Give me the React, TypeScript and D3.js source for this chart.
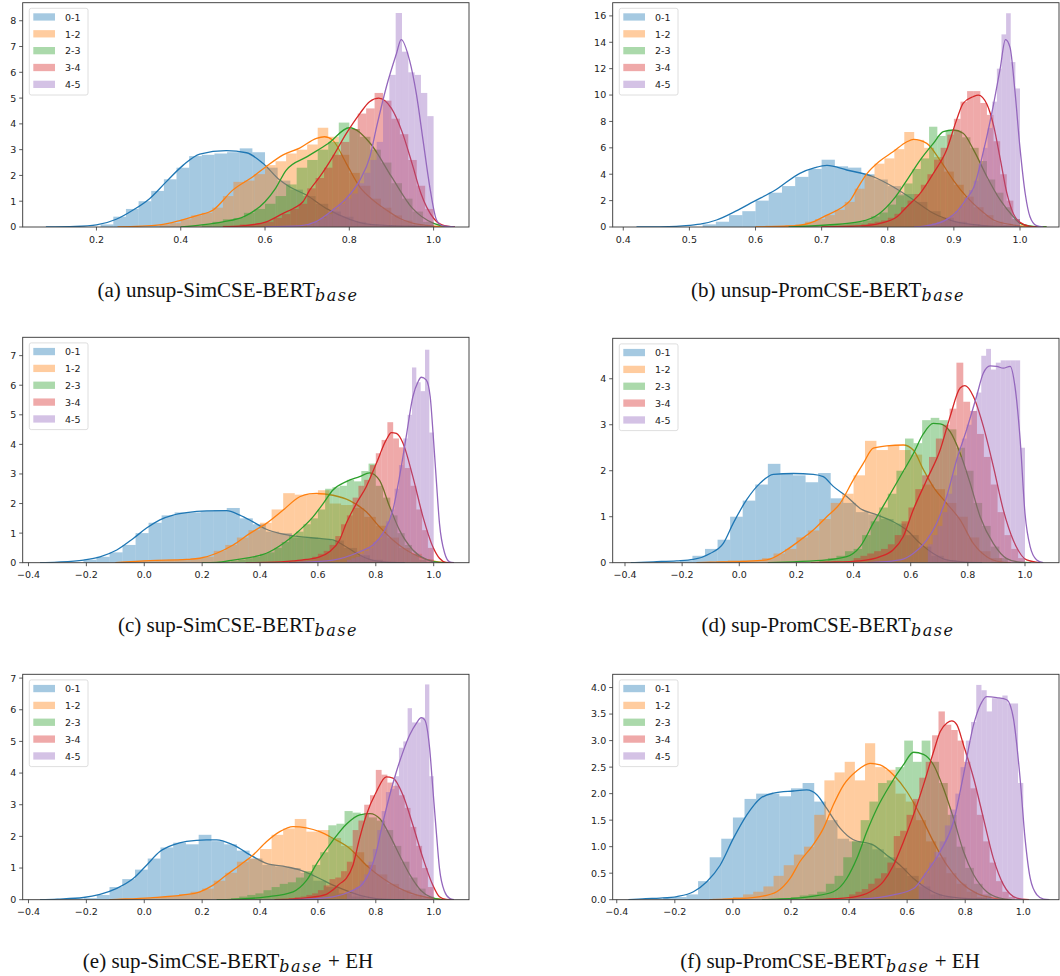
import React from 'react';
import * as d3 from 'd3';

type Pair = [number, number];

const COLORS = ['#1f77b4', '#ff7f0e', '#2ca02c', '#d62728', '#9467bd'];
const LABELS = ['0-1', '1-2', '2-3', '3-4', '4-5'];

// ---- (a) unsup-SimCSE ----
const startsA = [0.21, 0.35, 0.45, 0.5, 0.7];
const widthsA = [0.03, 0.025, 0.025, 0.02, 0.015];
const histA = [
  [0.1, 0.4, 0.7, 1.0, 1.4, 1.85, 2.3, 2.75, 2.8, 2.85, 2.9, 3.05, 2.9, 2.3, 1.8, 1.45, 1.2, 0.9, 0.6, 0.4, 0.2, 0.1, 0.05, 0.03, 0.02, 0.01],
  [0.1, 0.15, 0.3, 0.45, 0.55, 0.75, 1.2, 1.75, 1.8, 2.05, 2.4, 2.55, 2.85, 3.0, 3.2, 3.85, 3.5, 2.8, 2.1, 1.6, 1.1, 0.75, 0.45, 0.25, 0.1, 0.05],
  [0.1, 0.2, 0.3, 0.35, 0.55, 0.7, 0.9, 1.2, 1.65, 2.3, 2.6, 3.0, 3.3, 4.05, 3.8, 3.5, 3.0, 2.5, 1.7, 1.1, 0.6, 0.2],
  [0.05, 0.05, 0.1, 0.1, 0.15, 0.2, 0.35, 0.5, 0.7, 0.9, 1.5, 1.9, 2.3, 2.8, 3.3, 3.8, 4.4, 4.6, 5.2, 4.9, 4.2, 3.6, 2.6, 1.6, 0.7],
  [0.1, 0.2, 0.35, 0.5, 0.7, 0.9, 1.1, 1.3, 1.7, 2.1, 2.6, 3.3, 4.9, 5.9, 8.3, 6.8, 6.0, 5.9, 5.2, 4.3],
];
const kdeA: Pair[][] = [
  [[0.08, 0], [0.15, 0.02], [0.2, 0.08], [0.247, 0.3], [0.287, 0.66], [0.326, 1.1], [0.366, 1.76], [0.406, 2.4], [0.445, 2.83], [0.508, 2.96], [0.556, 2.88], [0.595, 2.47], [0.635, 1.82], [0.658, 1.56], [0.698, 1.24], [0.745, 0.72], [0.801, 0.3], [0.84, 0.12], [0.9, 0.05], [0.95, 0.03], [1.0, 0.01], [1.05, 0]],
  [[0.25, 0], [0.35, 0.08], [0.402, 0.27], [0.44, 0.45], [0.477, 0.66], [0.524, 1.44], [0.572, 1.96], [0.603, 2.35], [0.643, 2.8], [0.682, 3.06], [0.722, 3.44], [0.741, 3.5], [0.761, 3.36], [0.793, 2.46], [0.825, 1.55], [0.856, 1.05], [0.888, 0.66], [0.919, 0.34], [0.95, 0.15], [0.983, 0.06], [1.02, 0.01], [1.05, 0]],
  [[0.4, 0], [0.45, 0.08], [0.5, 0.2], [0.55, 0.4], [0.6, 0.98], [0.625, 1.5], [0.65, 2.2], [0.7, 2.73], [0.75, 3.24], [0.8, 3.85], [0.85, 3.24], [0.9, 1.95], [0.95, 0.72], [1.0, 0.14], [1.04, 0]],
  [[0.5, 0], [0.55, 0.05], [0.603, 0.2], [0.643, 0.53], [0.667, 0.72], [0.69, 0.98], [0.706, 1.43], [0.73, 1.95], [0.761, 2.73], [0.793, 3.63], [0.825, 4.4], [0.848, 4.86], [0.87, 5.0], [0.9, 4.6], [0.925, 3.7], [0.95, 2.4], [0.97, 1.3], [1.0, 0.34], [1.02, 0.08], [1.05, 0]],
  [[0.6, 0], [0.682, 0.04], [0.72, 0.2], [0.761, 0.66], [0.793, 1.11], [0.825, 1.82], [0.849, 2.73], [0.865, 3.9], [0.888, 5.44], [0.912, 6.73], [0.923, 7.27], [0.943, 6.46], [0.959, 5.17], [0.975, 3.36], [0.991, 1.55], [1.007, 0.27], [1.022, 0.04], [1.05, 0]],
];

// ---- (b) unsup-PromCSE ----
const startsB = [0.52, 0.6, 0.7, 0.76, 0.86];
const widthsB = [0.02, 0.015, 0.0125, 0.01, 0.007];
const histB = [
  [0.2, 0.4, 0.9, 1.2, 2.0, 2.6, 3.1, 3.8, 4.4, 5.1, 4.6, 4.5, 4.0, 3.6, 3.1, 2.5, 1.9, 1.2, 0.7, 0.4, 0.2, 0.1, 0.05, 0.02],
  [0.05, 0.1, 0.1, 0.15, 0.2, 0.4, 0.6, 0.9, 1.3, 1.9, 2.9, 3.9, 4.8, 5.2, 5.9, 7.2, 6.6, 6.0, 5.3, 4.2, 3.2, 2.3, 1.5, 0.9, 0.4, 0.15],
  [0.1, 0.15, 0.2, 0.3, 0.35, 0.5, 0.8, 1.1, 1.7, 2.4, 3.3, 4.4, 5.2, 7.6, 6.9, 7.3, 7.3, 6.8, 6.0, 5.0, 3.6, 2.6, 1.5, 0.6],
  [0.2, 0.3, 0.4, 0.5, 0.7, 1.0, 1.5, 2.0, 2.5, 3.2, 4.0, 5.1, 6.0, 7.0, 8.2, 9.5, 10.3, 10.3, 9.4, 8.5, 6.5, 4.0, 2.0, 0.6],
  [0.2, 0.3, 0.4, 0.5, 0.7, 0.9, 1.2, 1.6, 2.2, 2.8, 3.5, 4.8, 6.0, 7.5, 9.5, 12.0, 14.6, 16.2, 12.5, 10.5],
];
const kdeB: Pair[][] = [
  [[0.42, 0], [0.48, 0.05], [0.5, 0.12], [0.52, 0.25], [0.541, 0.53], [0.57, 1.2], [0.597, 1.92], [0.63, 2.8], [0.667, 4.07], [0.69, 4.5], [0.708, 4.67], [0.738, 4.32], [0.778, 3.81], [0.808, 3.05], [0.839, 2.05], [0.869, 1.04], [0.899, 0.45], [0.94, 0.13], [0.98, 0.04], [1.04, 0]],
  [[0.6, 0], [0.657, 0.08], [0.69, 0.45], [0.708, 0.9], [0.728, 1.4], [0.743, 2.0], [0.755, 3.0], [0.768, 4.0], [0.788, 5.0], [0.808, 5.7], [0.829, 6.46], [0.839, 6.64], [0.859, 6.34], [0.879, 5.07], [0.899, 3.56], [0.919, 2.3], [0.94, 1.29], [0.96, 0.53], [0.99, 0.15], [1.02, 0.02], [1.04, 0]],
  [[0.65, 0], [0.708, 0.15], [0.758, 0.4], [0.788, 1.04], [0.808, 2.05], [0.829, 3.56], [0.849, 5.07], [0.869, 6.34], [0.884, 7.22], [0.899, 7.35], [0.914, 7.1], [0.93, 5.83], [0.95, 3.81], [0.97, 2.05], [0.99, 0.78], [1.0, 0.28], [1.02, 0.05], [1.04, 0]],
  [[0.7, 0], [0.758, 0.08], [0.788, 0.28], [0.814, 0.78], [0.829, 1.54], [0.849, 2.55], [0.869, 4.07], [0.889, 5.83], [0.904, 8.1], [0.914, 9.37], [0.929, 9.87], [0.937, 10.0], [0.95, 9.3], [0.96, 7.7], [0.97, 5.2], [0.98, 2.6], [0.99, 1.0], [1.0, 0.35], [1.015, 0.05], [1.03, 0]],
  [[0.84, 0], [0.87, 0.2], [0.89, 0.6], [0.905, 1.2], [0.92, 2.2], [0.93, 3.0], [0.945, 5.8], [0.96, 9.3], [0.97, 12.0], [0.978, 14.2], [0.985, 13.6], [0.992, 10.5], [1.0, 6.0], [1.008, 2.5], [1.015, 0.8], [1.025, 0.1], [1.035, 0]],
];

// ---- (c) sup-SimCSE ----
const startsC = [-0.21, -0.08, 0.3, 0.5, 0.7];
const widthsC = [0.045, 0.04, 0.025, 0.02, 0.015];
const histC = [
  [0.1, 0.2, 0.35, 0.6, 1.0, 1.35, 1.6, 1.7, 1.7, 1.75, 1.78, 1.85, 1.5, 1.3, 1.05, 1.0, 0.85, 0.85, 0.8, 0.75, 0.5, 0.25, 0.1, 0.03],
  [0.03, 0.05, 0.05, 0.08, 0.1, 0.12, 0.15, 0.2, 0.4, 0.6, 0.85, 1.1, 1.35, 1.8, 2.35, 2.3, 2.3, 2.45, 2.0, 1.95, 1.85, 1.55, 1.25, 0.85, 0.5, 0.3, 0.12],
  [0.05, 0.1, 0.15, 0.2, 0.3, 0.35, 0.5, 0.7, 0.9, 1.05, 1.3, 1.5, 1.8, 2.5, 2.55, 2.6, 2.8, 2.75, 3.1, 3.35, 2.6, 2.2, 1.6, 1.0, 0.6, 0.3, 0.1, 0.03],
  [0.05, 0.08, 0.1, 0.12, 0.2, 0.3, 0.4, 0.6, 0.9, 1.3, 1.6, 2.2, 2.6, 2.8, 3.3, 3.7, 4.15, 4.75, 4.2, 3.9, 3.2, 2.6, 1.8, 1.1, 0.5],
  [0.1, 0.15, 0.2, 0.3, 0.4, 0.5, 0.7, 0.8, 1.0, 1.4, 1.8, 2.5, 3.3, 4.2, 5.0, 6.6, 6.1, 5.8, 7.2, 4.4],
];
const kdeC: Pair[][] = [
  [[-0.36, 0], [-0.3, 0.02], [-0.21, 0.09], [-0.153, 0.2], [-0.095, 0.43], [-0.038, 0.82], [0.008, 1.17], [0.054, 1.45], [0.1, 1.61], [0.146, 1.69], [0.215, 1.75], [0.284, 1.76], [0.33, 1.61], [0.376, 1.38], [0.422, 1.13], [0.468, 0.99], [0.537, 0.88], [0.606, 0.82], [0.652, 0.77], [0.687, 0.6], [0.733, 0.32], [0.779, 0.11], [0.836, 0.02], [0.9, 0]],
  [[-0.1, 0], [0.02, 0.07], [0.146, 0.11], [0.192, 0.15], [0.25, 0.32], [0.307, 0.6], [0.365, 0.99], [0.422, 1.33], [0.48, 1.78], [0.537, 2.23], [0.57, 2.33], [0.595, 2.34], [0.652, 2.28], [0.71, 2.1], [0.767, 1.72], [0.813, 1.21], [0.859, 0.77], [0.905, 0.43], [0.951, 0.2], [0.997, 0.06], [1.04, 0]],
  [[0.2, 0], [0.25, 0.01], [0.307, 0.09], [0.422, 0.32], [0.48, 0.65], [0.537, 1.1], [0.583, 1.55], [0.618, 2.0], [0.652, 2.46], [0.698, 2.74], [0.744, 2.91], [0.779, 3.04], [0.813, 2.78], [0.848, 1.89], [0.882, 1.1], [0.928, 0.43], [0.974, 0.11], [1.02, 0.01], [1.05, 0]],
  [[0.35, 0], [0.422, 0.01], [0.514, 0.06], [0.56, 0.11], [0.606, 0.2], [0.64, 0.37], [0.675, 0.77], [0.698, 1.33], [0.733, 2.0], [0.767, 2.57], [0.802, 3.36], [0.836, 4.15], [0.854, 4.4], [0.871, 4.37], [0.894, 4.04], [0.928, 2.91], [0.963, 1.55], [0.997, 0.54], [1.02, 0.15], [1.043, 0.01], [1.07, 0]],
  [[0.5, 0], [0.537, 0.01], [0.652, 0.09], [0.744, 0.37], [0.79, 0.6], [0.825, 1.0], [0.859, 1.78], [0.882, 2.91], [0.905, 4.26], [0.928, 5.61], [0.946, 6.12], [0.957, 6.27], [0.974, 6.18], [0.988, 5.61], [0.997, 4.49], [1.009, 2.8], [1.02, 1.33], [1.038, 0.32], [1.055, 0.03], [1.07, 0]],
];

// ---- (d) sup-PromCSE ----
const startsD = [-0.208, -0.08, 0.28, 0.4, 0.66];
const widthsD = [0.044, 0.04, 0.03, 0.024, 0.017];
const histD = [
  [0.05, 0.15, 0.3, 0.5, 1.0, 1.35, 1.7, 2.15, 1.95, 1.9, 1.75, 1.95, 1.4, 1.3, 1.1, 1.05, 0.95, 0.85, 0.6, 0.35, 0.15, 0.05],
  [0.03, 0.05, 0.05, 0.05, 0.1, 0.2, 0.3, 0.55, 0.7, 0.95, 1.3, 1.5, 1.9, 2.65, 2.45, 2.55, 2.45, 2.35, 1.7, 1.6, 1.3, 1.0, 0.55, 0.25, 0.1],
  [0.05, 0.1, 0.15, 0.25, 0.3, 0.6, 0.9, 1.2, 1.5, 2.0, 2.7, 2.6, 3.1, 3.15, 3.1, 2.9, 2.5, 2.0, 1.3, 0.8, 0.35, 0.1],
  [0.1, 0.15, 0.2, 0.25, 0.3, 0.4, 0.6, 0.9, 1.2, 1.6, 1.9, 2.3, 2.7, 3.0, 3.35, 4.35, 3.5, 3.3, 2.8, 2.3, 1.7, 1.1, 0.6, 0.3, 0.1],
  [0.4, 0.6, 0.8, 1.1, 1.5, 1.9, 2.3, 2.7, 3.0, 3.3, 3.7, 4.5, 4.65, 4.2, 4.35, 4.4, 4.4, 4.4, 4.4, 2.5],
];
const kdeD: Pair[][] = [
  [[-0.38, 0], [-0.3, 0.02], [-0.219, 0.04], [-0.161, 0.07], [-0.102, 0.2], [-0.056, 0.42], [-0.021, 0.86], [0.026, 1.37], [0.073, 1.73], [0.119, 1.92], [0.189, 1.94], [0.259, 1.92], [0.294, 1.87], [0.329, 1.66], [0.376, 1.44], [0.423, 1.18], [0.481, 1.04], [0.539, 0.89], [0.586, 0.71], [0.633, 0.42], [0.679, 0.2], [0.726, 0.06], [0.796, 0.01], [0.85, 0]],
  [[-0.15, 0], [-0.102, 0.01], [0.014, 0.03], [0.096, 0.06], [0.166, 0.28], [0.213, 0.49], [0.259, 0.71], [0.306, 1.0], [0.353, 1.29], [0.399, 1.8], [0.434, 2.16], [0.469, 2.49], [0.516, 2.54], [0.574, 2.56], [0.609, 2.45], [0.644, 2.03], [0.679, 1.65], [0.726, 1.29], [0.773, 0.93], [0.819, 0.42], [0.866, 0.13], [0.913, 0.02], [0.95, 0]],
  [[0.1, 0], [0.189, 0.02], [0.306, 0.06], [0.376, 0.13], [0.423, 0.35], [0.469, 0.86], [0.516, 1.36], [0.563, 1.87], [0.609, 2.37], [0.644, 2.8], [0.679, 3.03], [0.703, 3.02], [0.738, 2.85], [0.773, 2.38], [0.808, 1.73], [0.843, 1.0], [0.889, 0.42], [0.936, 0.09], [0.983, 0.01], [1.02, 0]],
  [[0.25, 0], [0.306, 0.01], [0.423, 0.04], [0.493, 0.13], [0.539, 0.28], [0.574, 0.57], [0.609, 1.15], [0.656, 1.8], [0.703, 2.45], [0.738, 3.18], [0.773, 3.8], [0.79, 3.85], [0.819, 3.62], [0.854, 2.97], [0.889, 2.1], [0.924, 1.15], [0.959, 0.49], [1.006, 0.06], [1.053, 0]],
  [[0.45, 0], [0.481, 0.01], [0.563, 0.06], [0.609, 0.2], [0.656, 0.49], [0.691, 0.86], [0.726, 1.44], [0.761, 2.24], [0.796, 2.9], [0.831, 3.63], [0.854, 4.12], [0.878, 4.28], [0.901, 4.27], [0.924, 4.23], [0.948, 4.27], [0.965, 3.83], [0.983, 2.68], [1.0, 1.07], [1.018, 0.35], [1.041, 0.06], [1.064, 0]],
];

// ---- (e) sup-SimCSE + EH ----
const startsE = [-0.208, -0.08, 0.3, 0.5, 0.7];
const widthsE = [0.044, 0.04, 0.028, 0.02, 0.015];
const histE = [
  [0.05, 0.15, 0.4, 0.65, 0.95, 1.3, 1.65, 1.8, 1.75, 2.05, 1.85, 1.75, 1.55, 1.3, 1.1, 1.05, 1.0, 0.85, 0.6, 0.4, 0.2, 0.1, 0.03],
  [0.02, 0.04, 0.05, 0.08, 0.12, 0.18, 0.25, 0.35, 0.6, 0.85, 1.2, 1.3, 1.6, 2.05, 2.25, 2.55, 2.15, 2.2, 1.95, 1.7, 1.5, 1.1, 0.8, 0.5, 0.3, 0.15, 0.05],
  [0.05, 0.1, 0.15, 0.2, 0.3, 0.4, 0.5, 0.55, 0.7, 0.9, 1.1, 1.5, 2.35, 2.4, 2.8, 2.75, 2.7, 2.6, 2.5, 2.2, 1.7, 1.2, 0.7, 0.35, 0.1],
  [0.05, 0.08, 0.1, 0.15, 0.2, 0.3, 0.45, 0.65, 0.7, 0.9, 1.2, 2.2, 2.5, 3.0, 3.3, 4.1, 3.95, 3.7, 3.6, 3.3, 2.9, 2.3, 1.7, 1.0, 0.4],
  [0.2, 0.3, 0.4, 0.6, 0.8, 1.2, 1.6, 2.2, 2.8, 3.4, 3.5, 3.9, 4.8, 5.0, 6.05, 5.6, 5.6, 5.75, 6.8, 3.9],
];
const kdeE: Pair[][] = [
  [[-0.36, 0], [-0.3, 0.02], [-0.21, 0.07], [-0.153, 0.17], [-0.095, 0.36], [-0.038, 0.67], [0.008, 1.09], [0.054, 1.52], [0.1, 1.73], [0.146, 1.84], [0.215, 1.89], [0.25, 1.89], [0.307, 1.73], [0.376, 1.36], [0.422, 1.15], [0.491, 1.04], [0.537, 0.94], [0.606, 0.67], [0.652, 0.46], [0.71, 0.25], [0.767, 0.09], [0.836, 0.01], [0.9, 0]],
  [[-0.12, 0], [-0.095, 0.01], [0.02, 0.06], [0.135, 0.15], [0.192, 0.25], [0.238, 0.46], [0.284, 0.78], [0.33, 1.09], [0.376, 1.41], [0.422, 1.83], [0.468, 2.15], [0.514, 2.31], [0.56, 2.27], [0.606, 2.15], [0.652, 1.94], [0.71, 1.62], [0.767, 1.09], [0.825, 0.67], [0.882, 0.36], [0.94, 0.15], [0.997, 0.04], [1.04, 0]],
  [[0.25, 0], [0.307, 0.01], [0.422, 0.09], [0.514, 0.25], [0.56, 0.6], [0.6, 1.2], [0.65, 1.85], [0.7, 2.4], [0.745, 2.68], [0.78, 2.72], [0.815, 2.55], [0.85, 2.0], [0.885, 1.35], [0.92, 0.75], [0.955, 0.3], [0.99, 0.08], [1.03, 0]],
  [[0.45, 0], [0.48, 0.01], [0.56, 0.06], [0.629, 0.17], [0.652, 0.31], [0.675, 0.5], [0.698, 0.67], [0.721, 1.09], [0.744, 1.94], [0.767, 2.67], [0.802, 3.41], [0.836, 3.88], [0.859, 3.84], [0.894, 3.3], [0.928, 2.36], [0.963, 1.31], [0.997, 0.46], [1.02, 0.09], [1.043, 0.01], [1.07, 0]],
  [[0.5, 0], [0.537, 0.01], [0.652, 0.09], [0.71, 0.25], [0.756, 0.52], [0.779, 0.88], [0.802, 1.52], [0.825, 2.46], [0.848, 3.3], [0.871, 4.04], [0.894, 4.67], [0.917, 5.2], [0.94, 5.57], [0.957, 5.75], [0.969, 5.68], [0.986, 4.78], [0.997, 3.52], [1.009, 2.15], [1.02, 0.99], [1.038, 0.25], [1.055, 0.04], [1.07, 0]],
];

// ---- (f) sup-PromCSE + EH ----
const startsF = [-0.24, -0.07, 0.2, 0.4, 0.64];
const widthsF = [0.04, 0.035, 0.03, 0.022, 0.018];
const histF = [
  [0.04, 0.05, 0.1, 0.35, 0.8, 1.15, 1.55, 1.9, 2.0, 2.0, 1.95, 2.1, 2.2, 1.85, 1.5, 1.15, 1.1, 1.05, 0.95, 0.8, 0.6, 0.45, 0.25, 0.1, 0.05],
  [0.02, 0.03, 0.05, 0.1, 0.15, 0.25, 0.45, 0.65, 0.85, 1.0, 1.6, 2.25, 2.4, 2.6, 2.25, 2.95, 2.5, 2.45, 2.0, 1.85, 1.5, 1.1, 0.8, 0.5, 0.3, 0.15, 0.05],
  [0.05, 0.08, 0.1, 0.15, 0.3, 0.45, 0.8, 1.1, 1.5, 1.85, 2.2, 2.25, 2.5, 3.0, 2.6, 3.0, 2.6, 2.2, 1.6, 1.0, 0.6, 0.3, 0.1],
  [0.1, 0.15, 0.2, 0.3, 0.4, 0.5, 0.7, 1.2, 1.3, 1.6, 1.9, 2.3, 2.6, 3.1, 3.55, 3.3, 3.2, 3.0, 2.6, 2.1, 1.6, 1.1, 0.7, 0.35, 0.15, 0.05],
  [0.3, 0.5, 0.7, 0.9, 1.1, 1.4, 1.7, 2.0, 2.5, 3.0, 3.35, 4.05, 3.95, 3.55, 3.8, 3.8, 3.85, 3.7, 3.7, 2.2],
];
const kdeF: Pair[][] = [
  [[-0.36, 0], [-0.3, 0.02], [-0.251, 0.03], [-0.193, 0.06], [-0.136, 0.15], [-0.09, 0.34], [-0.044, 0.65], [0.002, 1.16], [0.048, 1.6], [0.094, 1.91], [0.14, 2.01], [0.208, 2.05], [0.254, 2.07], [0.289, 1.98], [0.323, 1.72], [0.369, 1.35], [0.415, 1.13], [0.484, 1.03], [0.53, 0.84], [0.576, 0.65], [0.622, 0.4], [0.668, 0.21], [0.714, 0.09], [0.783, 0.03], [0.874, 0.01], [0.95, 0]],
  [[-0.08, 0], [-0.021, 0.01], [0.094, 0.06], [0.151, 0.15], [0.197, 0.4], [0.231, 0.72], [0.277, 1.04], [0.312, 1.35], [0.346, 1.79], [0.381, 2.16], [0.427, 2.43], [0.473, 2.57], [0.507, 2.54], [0.553, 2.35], [0.599, 2.04], [0.645, 1.6], [0.691, 1.09], [0.737, 0.65], [0.783, 0.34], [0.84, 0.12], [0.897, 0.03], [0.95, 0]],
  [[0.1, 0], [0.151, 0.01], [0.266, 0.06], [0.346, 0.15], [0.392, 0.4], [0.427, 0.78], [0.461, 1.28], [0.496, 1.72], [0.541, 2.16], [0.587, 2.54], [0.622, 2.78], [0.656, 2.74], [0.691, 2.54], [0.725, 2.1], [0.76, 1.53], [0.794, 0.91], [0.829, 0.47], [0.874, 0.15], [0.92, 0.03], [0.96, 0]],
  [[0.25, 0], [0.323, 0.01], [0.415, 0.05], [0.473, 0.15], [0.518, 0.34], [0.553, 0.65], [0.587, 1.09], [0.622, 1.6], [0.656, 2.16], [0.691, 2.79], [0.714, 3.17], [0.737, 3.33], [0.754, 3.37], [0.771, 3.3], [0.794, 2.92], [0.829, 2.29], [0.863, 1.53], [0.897, 0.78], [0.932, 0.28], [0.978, 0.03], [1.02, 0]],
  [[0.4, 0], [0.438, 0.01], [0.553, 0.09], [0.622, 0.21], [0.668, 0.53], [0.714, 0.91], [0.76, 1.48], [0.794, 2.35], [0.829, 3.3], [0.852, 3.67], [0.874, 3.83], [0.909, 3.81], [0.943, 3.77], [0.966, 3.42], [0.989, 2.29], [1.006, 1.16], [1.024, 0.4], [1.047, 0.09], [1.07, 0.01], [1.09, 0]],
];

// tick values
const xTicksA = [0.2, 0.4, 0.6, 0.8, 1.0];
const xTicksB = [0.4, 0.5, 0.6, 0.7, 0.8, 0.9, 1.0];
const xTicksWide = [-0.4, -0.2, 0.0, 0.2, 0.4, 0.6, 0.8, 1.0];
const yTicksA = [0, 1, 2, 3, 4, 5, 6, 7, 8];
const yTicksB = [0, 2, 4, 6, 8, 10, 12, 14, 16];
const yTicksC = [0, 1, 2, 3, 4, 5, 6, 7];
const yTicksD = [0, 1, 2, 3, 4];
const yTicksF = [0, 0.5, 1.0, 1.5, 2.0, 2.5, 3.0, 3.5, 4.0];

const fmt1 = (v: number) => (v < 0 ? '\u2212' : '') + Math.abs(v).toFixed(1);
const fmt0 = (v: number) => String(v);

interface PanelProps {
  id: string;
  left: number; right: number; top: number; bottom: number;
  xDomain: [number, number]; yDomain: [number, number];
  xTicks: number[]; yTicks: number[]; yFmt: (v: number) => string;
  starts: number[]; widths: number[]; hist: number[][]; kde: Pair[][];
  caption: string; suffix: string; capX: number; capY: number;
}

const TICK_FONT = '"DejaVu Sans", sans-serif';

const Panel: React.FC<PanelProps> = (p) => {
  const x = d3.scaleLinear().domain(p.xDomain).range([p.left, p.right]);
  const y = d3.scaleLinear().domain(p.yDomain).range([p.bottom, p.top]);
  const line = d3
    .line<Pair>()
    .x((d) => x(d[0]))
    .y((d) => y(d[1]))
    .curve(d3.curveMonotoneX);

  const lx = p.left + 6.6;
  const ly = p.top + 5.6;

  return (
    <g>
      <defs>
        <clipPath id={`clip-${p.id}`}>
          <rect x={p.left} y={p.top} width={p.right - p.left} height={p.bottom - p.top} />
        </clipPath>
      </defs>
      <g clipPath={`url(#clip-${p.id})`}>
        {p.hist.map((hs, s) => (
          <g key={s}>
            {hs.map((h, i) => {
              const x0 = x(p.starts[s] + i * p.widths[s]);
              const x1 = x(p.starts[s] + (i + 1) * p.widths[s]);
              return (
                <rect key={i} x={x0} y={y(h)} width={x1 - x0} height={y(0) - y(h)}
                  fill={COLORS[s]} fillOpacity={0.4} />
              );
            })}
            <path d={line(p.kde[s]) || ''} fill="none" stroke={COLORS[s]} strokeWidth={1.3} />
          </g>
        ))}
      </g>
      <rect x={p.left} y={p.top} width={p.right - p.left} height={p.bottom - p.top}
        fill="none" stroke="#333" strokeWidth={0.9} />
      {p.xTicks.map((t) => (
        <g key={t}>
          <line x1={x(t)} x2={x(t)} y1={p.bottom} y2={p.bottom + 3.5} stroke="#333" strokeWidth={0.8} />
          <text x={x(t)} y={p.bottom + 15.5} textAnchor="middle" fontFamily={TICK_FONT}
            fontSize={9.5} fill="#222">{fmt1(t)}</text>
        </g>
      ))}
      {p.yTicks.map((t) => (
        <g key={t}>
          <line x1={p.left - 3.5} x2={p.left} y1={y(t)} y2={y(t)} stroke="#333" strokeWidth={0.8} />
          <text x={p.left - 6.5} y={y(t)} dy="0.36em" textAnchor="end" fontFamily={TICK_FONT}
            fontSize={9.5} fill="#222">{p.yFmt(t)}</text>
        </g>
      ))}
      <rect x={lx} y={ly} width={58.7} height={86.7} rx={2} fill="#fff" fillOpacity={0.8}
        stroke="#d5d5d5" strokeWidth={0.8} />
      {LABELS.map((lab, i) => (
        <g key={lab}>
          <rect x={lx + 4} y={ly + 5 + i * 16.85} width={21.7} height={7.3} fill={COLORS[i]} fillOpacity={0.4} />
          <text x={lx + 35.7} y={ly + 12.4 + i * 16.85} fontFamily={TICK_FONT} fontSize={9.5} fill="#222">{lab}</text>
        </g>
      ))}
      <text x={p.capX} y={p.capY} textAnchor="middle" fontFamily='"Liberation Serif", "Times New Roman", serif'
        fontSize={21} fill="#111">
        {p.caption}
        <tspan dy={4} fontFamily='"DejaVu Serif", serif' fontStyle="italic" fontSize={16} letterSpacing={1.5}>base</tspan>
        {p.suffix ? <tspan dy={-4}>{p.suffix}</tspan> : null}
      </text>
    </g>
  );
};

export default function App() {
  const colL = { left: 22.7, right: 469 };
  const colR = { left: 612.7, right: 1059 };
  return (
    <svg width={1060} height={976} style={{ position: 'absolute', left: 0, top: 0, background: '#fff' }}>
      <Panel id="a" {...colL} top={2.7} bottom={227} xDomain={[0.025, 1.084]} yDomain={[0, 8.7]}
        xTicks={xTicksA} yTicks={yTicksA} yFmt={fmt0}
        starts={startsA} widths={widthsA} hist={histA} kde={kdeA}
        caption="(a) unsup-SimCSE-BERT" suffix="" capX={228} capY={297} />
      <Panel id="b" {...colR} top={2.7} bottom={227} xDomain={[0.384, 1.059]} yDomain={[0, 17]}
        xTicks={xTicksB} yTicks={yTicksB} yFmt={fmt0}
        starts={startsB} widths={widthsB} hist={histB} kde={kdeB}
        caption="(b) unsup-PromCSE-BERT" suffix="" capX={828} capY={297} />
      <Panel id="c" {...colL} top={337.3} bottom={562.7} xDomain={[-0.42, 1.122]} yDomain={[0, 7.62]}
        xTicks={xTicksWide} yTicks={yTicksC} yFmt={fmt0}
        starts={startsC} widths={widthsC} hist={histC} kde={kdeC}
        caption="(c) sup-SimCSE-BERT" suffix="" capX={238} capY={632} />
      <Panel id="d" {...colR} top={338.3} bottom={562.7} xDomain={[-0.443, 1.119]} yDomain={[0, 4.88]}
        xTicks={xTicksWide} yTicks={yTicksD} yFmt={fmt0}
        starts={startsD} widths={widthsD} hist={histD} kde={kdeD}
        caption="(d) sup-PromCSE-BERT" suffix="" capX={828} capY={632} />
      <Panel id="e" {...colL} top={674.3} bottom={899.7} xDomain={[-0.42, 1.122]} yDomain={[0, 7.12]}
        xTicks={xTicksWide} yTicks={yTicksC} yFmt={fmt0}
        starts={startsE} widths={widthsE} hist={histE} kde={kdeE}
        caption="(e) sup-SimCSE-BERT" suffix=" + EH" capX={228} capY={968} />
      <Panel id="f" {...colR} top={674.3} bottom={899.7} xDomain={[-0.414, 1.123]} yDomain={[0, 4.25]}
        xTicks={xTicksWide} yTicks={yTicksF} yFmt={fmt1}
        starts={startsF} widths={widthsF} hist={histF} kde={kdeF}
        caption="(f) sup-PromCSE-BERT" suffix=" + EH" capX={830} capY={968} />
    </svg>
  );
}
